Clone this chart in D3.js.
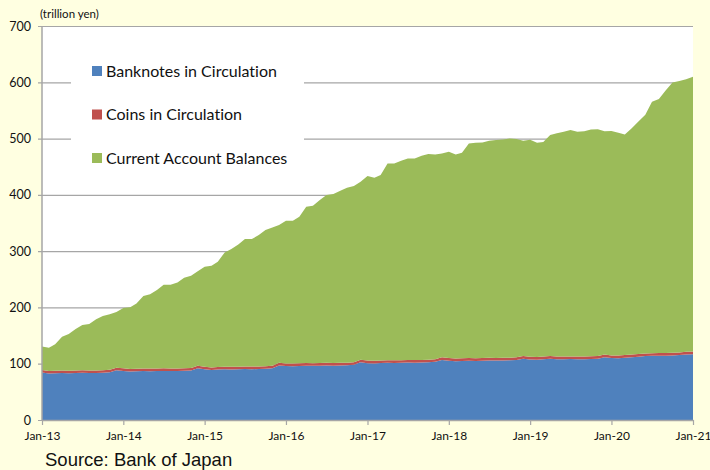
<!DOCTYPE html>
<html>
<head>
<meta charset="utf-8">
<script src="https://cdn.jsdelivr.net/npm/d3@7"></script>
<style>
  html, body { margin: 0; padding: 0; background: #ffffe1; }
  svg { display: block; }
  text { fill: #111; font-variant-ligatures: none; }
</style>
</head>
<body>
<svg id="chart" width="710" height="470"></svg>
<script>
// Monthly outstanding balances, trillion yen (Jan-13 .. Jan-21)
const banknotes = [
  84.5, 82.5, 83.0, 83.5, 83.2, 83.5, 83.8, 83.6, 83.6, 84.0, 84.8, 88.5,
  87.2, 86.0, 86.5, 87.0, 86.8, 87.0, 87.2, 87.0, 87.0, 87.3, 88.0, 91.8,
  90.2, 88.8, 89.5, 90.0, 89.8, 90.2, 90.5, 90.3, 90.5, 91.0, 92.0, 97.0,
  95.8, 95.5, 96.0, 96.5, 96.2, 96.5, 96.8, 96.6, 96.8, 97.2, 98.0, 102.4,
  101.0, 100.5, 101.2, 101.5, 101.3, 101.6, 102.0, 101.8, 102.0, 102.5, 103.3, 106.6,
  105.2, 104.5, 105.0, 105.3, 105.0, 105.4, 105.6, 105.5, 105.7, 106.0, 106.8, 108.8,
  107.5, 107.0, 108.0, 109.0, 108.0, 108.0, 108.2, 108.0, 108.0, 108.3, 109.0, 111.5,
  110.0, 109.6, 110.5, 111.5, 112.5, 113.5, 114.0, 114.2, 114.3, 114.6, 115.3, 116.5,
  117.0
];
const coins = [
  4.5, 4.5, 4.5, 4.5, 4.5, 4.5, 4.5, 4.5, 4.5, 4.5, 4.5, 4.5,
  4.6, 4.6, 4.6, 4.6, 4.6, 4.6, 4.6, 4.6, 4.6, 4.6, 4.6, 4.6,
  4.6, 4.6, 4.6, 4.6, 4.6, 4.6, 4.6, 4.6, 4.6, 4.6, 4.6, 4.6,
  4.7, 4.7, 4.7, 4.7, 4.7, 4.7, 4.7, 4.7, 4.7, 4.7, 4.7, 4.7,
  4.7, 4.7, 4.7, 4.7, 4.7, 4.7, 4.7, 4.7, 4.7, 4.7, 4.7, 4.7,
  4.8, 4.8, 4.8, 4.8, 4.8, 4.8, 4.8, 4.8, 4.8, 4.8, 4.8, 4.8,
  4.8, 4.8, 4.8, 4.8, 4.8, 4.8, 4.8, 4.8, 4.8, 4.8, 4.8, 4.8,
  4.8, 4.8, 4.8, 4.8, 4.8, 4.8, 4.8, 4.8, 4.8, 4.8, 4.8, 4.8,
  4.8
];
const currentAccount = [
  41.5, 41.5, 46.9, 60.0, 65.0, 73.6, 80.4, 82.4, 90.7, 96.2, 98.4, 98.8,
  107.2, 109.5, 116.1, 128.6, 131.8, 139.3, 148.6, 148.8, 152.9, 160.9, 163.8, 167.7,
  177.5, 180.7, 186.9, 203.2, 209.3, 217.1, 226.4, 226.6, 233.5, 241.9, 245.6, 244.8,
  253.5, 253.8, 260.5, 277.7, 279.8, 289.6, 298.2, 300.1, 305.8, 310.8, 312.9, 316.2,
  327.7, 325.2, 329.3, 349.7, 349.9, 354.3, 358.1, 358.3, 362.8, 365.3, 363.9, 362.4,
  366.6, 362.6, 365.0, 381.3, 382.8, 383.0, 385.7, 387.0, 388.0, 389.5, 387.5, 382.5,
  385.6, 380.8, 381.2, 392.7, 396.7, 399.4, 402.1, 399.2, 400.2, 402.9, 402.8, 396.7,
  398.8, 396.0, 392.1, 402.2, 413.2, 424.2, 446.6, 451.2, 466.9, 480.4, 482.0, 483.9,
  488.0
];
const seriesNames = ["Banknotes in Circulation", "Coins in Circulation", "Current Account Balances"];
const seriesColors = ["#4f81bd", "#c0504d", "#9bbb59"];
const yTicks = [0, 100, 200, 300, 400, 500, 600, 700];
const xTickLabels = ["Jan-13", "Jan-14", "Jan-15", "Jan-16", "Jan-17", "Jan-18", "Jan-19", "Jan-20", "Jan-21"];

const months = d3.timeMonth.range(new Date(2013, 0, 1), new Date(2021, 1, 1));
const rows = months.map((d, i) => ({
  date: d,
  banknotes: banknotes[i],
  coins: coins[i],
  current: currentAccount[i]
}));

const svg = d3.select("#chart");
const plotLeft = 42, plotRight = 693, plotTop = 26, plotBottom = 420;

const x = d3.scaleTime().domain([months[0], months[months.length - 1]]).range([plotLeft, plotRight]);
const y = d3.scaleLinear().domain([0, 700]).range([plotBottom, plotTop]);

// plot panel
svg.append("rect").attr("x", plotLeft).attr("y", plotTop)
  .attr("width", plotRight - plotLeft).attr("height", plotBottom - plotTop).attr("fill", "#ffffff");

// horizontal gridlines with tick stubs left of the axis
const yAxis = d3.axisLeft(y).tickValues(yTicks).tickSize(-(plotRight - plotLeft + 4)).tickPadding(7);
const gy = svg.append("g").attr("transform", `translate(${plotLeft - 4},0)`).call(yAxis);
gy.select(".domain").remove();
gy.selectAll(".tick line").attr("stroke", "#a6a6a6").attr("stroke-width", 1.2);
gy.selectAll(".tick text").attr("font-family", "Lato, 'Open Sans', sans-serif")
  .attr("font-size", 12.5).attr("fill", "#111");

// stacked areas
const stack = d3.stack().keys(["banknotes", "coins", "current"]);
const layers = stack(rows);
const area = d3.area()
  .x(d => x(d.data.date))
  .y0(d => y(d[0]))
  .y1(d => y(d[1]));
svg.append("g").selectAll("path").data(layers).join("path")
  .attr("d", area)
  .attr("fill", (d, i) => seriesColors[i]);

// legend panel
const legend = svg.append("g");
legend.append("rect").attr("x", 71).attr("y", 48).attr("width", 233).attr("height", 130).attr("fill", "#ffffff");
seriesNames.forEach((name, i) => {
  const cy = 71 + i * 43.5;
  legend.append("rect").attr("x", 92).attr("y", cy - 5).attr("width", 10).attr("height", 10)
    .attr("fill", seriesColors[i]);
  legend.append("text").attr("x", 106).attr("y", cy).attr("dy", "0.36em")
    .attr("font-family", "Lato, 'Open Sans', sans-serif").attr("font-size", 16)
    .text(name);
});

// axis lines
svg.append("line").attr("x1", plotLeft).attr("x2", plotLeft).attr("y1", plotTop).attr("y2", plotBottom)
  .attr("stroke", "#a6a6a6").attr("stroke-width", 1.5);

const xAxis = d3.axisBottom(x)
  .tickValues(xTickLabels.map((_, i) => new Date(2013 + i, 0, 1)))
  .tickFormat((d, i) => xTickLabels[i])
  .tickSize(5).tickSizeOuter(0).tickPadding(6);
const gx = svg.append("g").attr("transform", `translate(0,${plotBottom})`).call(xAxis);
gx.select(".domain").attr("stroke", "#a6a6a6").attr("stroke-width", 1.5);
gx.selectAll(".tick line").attr("stroke", "#a6a6a6").attr("stroke-width", 1.2);
gx.selectAll(".tick text").attr("font-family", "Lato, 'Open Sans', sans-serif")
  .attr("font-size", 12).attr("fill", "#111");

// unit label and source
svg.append("text").attr("x", 40).attr("y", 18)
  .attr("font-family", "Lato, 'Open Sans', sans-serif").attr("font-size", 11.5)
  .text("(trillion yen)");
svg.append("text").attr("x", 45).attr("y", 466)
  .attr("font-family", "'Liberation Sans', Arial, sans-serif").attr("font-size", 18.5)
  .text("Source: Bank of Japan");
</script>
</body>
</html>
